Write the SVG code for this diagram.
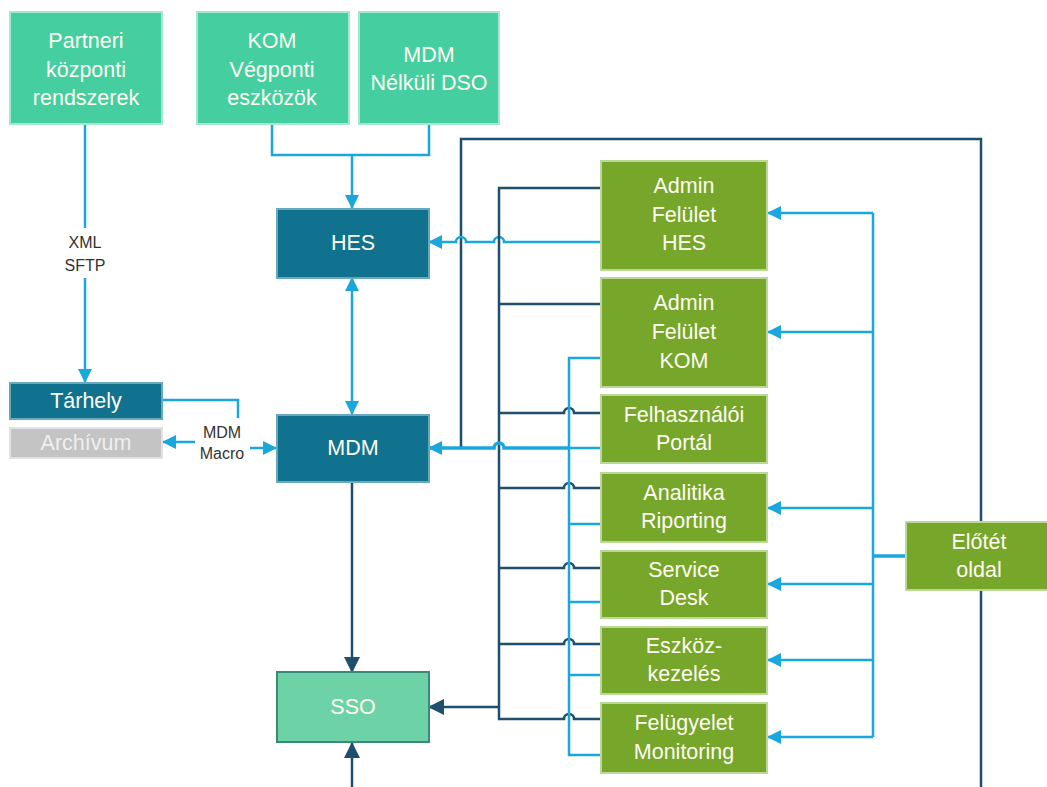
<svg xmlns="http://www.w3.org/2000/svg" width="1047" height="787" viewBox="0 0 1047 787">
<style>
.t{font-family:"Liberation Sans",Arial,sans-serif;font-size:21.5px;fill:#fffdf2;text-anchor:middle}
.lbl{font-family:"Liberation Sans",Arial,sans-serif;font-size:16px;fill:#333;text-anchor:middle}
.teal{fill:#45cea0;stroke:#a6e8cf;stroke-width:2}
.dark{fill:#11728f;stroke:#6aa9bd;stroke-width:2}
.green{fill:#76a62a;stroke:#bcd898;stroke-width:2}
.blue{fill:none;stroke:#1aa7de;stroke-width:2.5}
.blueT{fill:none;stroke:#1aa7de;stroke-width:3.5}
.navy{fill:none;stroke:#1f4e6e;stroke-width:2.5}
</style>
<defs>
<marker id="ab" markerUnits="userSpaceOnUse" markerWidth="14" markerHeight="14" refX="13" refY="7" orient="auto-start-reverse"><path d="M0,0 L14,7 L0,14 Z" fill="#1aa7de"/></marker>
<marker id="an" markerUnits="userSpaceOnUse" markerWidth="16" markerHeight="16" refX="15" refY="8" orient="auto-start-reverse"><path d="M0,0 L16,8 L0,16 Z" fill="#1f4e6e"/></marker>
</defs>
<rect width="1047" height="787" fill="#fff"/>
<g id="connectors">
<path class="blue" d="M85,125 V228"/>
<path class="blue" d="M85,278 V382" marker-end="url(#ab)"/>
<path class="blue" d="M272,125 V155 H429 V125"/>
<path class="blue" d="M352,155 V208" marker-end="url(#ab)"/>
<path class="blue" d="M352,278 V414" marker-start="url(#ab)" marker-end="url(#ab)"/>
<path class="blue" d="M163,400 H238 V418"/>
<path class="blue" d="M195,442 H163" marker-end="url(#ab)"/>
<path class="blue" d="M250,448 H276" marker-end="url(#ab)"/>
<path class="navy" d="M461,447 V139 H981 V787"/>
<path class="blue" d="M429,242 H456 A5,5 0 0 1 466,242 H494 A5,5 0 0 1 504,242 H601" marker-start="url(#ab)"/>
<path class="navy" d="M601,188 H499 V719 H564 A5,5 0 0 1 574,719 H601"/>
<path class="navy" d="M499,304 H601"/>
<path class="navy" d="M499,413 H564 A5,5 0 0 1 574,413 H601"/>
<path class="navy" d="M499,488 H564 A5,5 0 0 1 574,488 H601"/>
<path class="navy" d="M499,568 H564 A5,5 0 0 1 574,568 H601"/>
<path class="navy" d="M499,644 H564 A5,5 0 0 1 574,644 H601"/>
<path class="navy" d="M499,707 H429" marker-end="url(#an)"/>
<path class="navy" d="M352,482 V672" marker-end="url(#an)"/>
<path class="navy" d="M352,787 V743" marker-end="url(#an)"/>
<path class="blue" d="M601,358 H569 V755 H601"/>
<path class="blue" d="M569,448 H601 M569,524 H601 M569,602 H601 M569,675 H601"/>
<path class="blueT" d="M569,448 H504 A5,5 0 0 0 494,448 H429" marker-end="url(#ab)"/>
<path class="blue" d="M873,213 V737"/>
<path class="blue" d="M873,213 H768" marker-end="url(#ab)"/>
<path class="blue" d="M873,332 H768" marker-end="url(#ab)"/>
<path class="blue" d="M873,508 H768" marker-end="url(#ab)"/>
<path class="blue" d="M873,584 H768" marker-end="url(#ab)"/>
<path class="blue" d="M873,660 H768" marker-end="url(#ab)"/>
<path class="blue" d="M873,737 H768" marker-end="url(#ab)"/>
<path class="blueT" d="M873,556 H906"/>
<rect x="58" y="229" width="54" height="48" fill="#fff"/>
<text class="lbl" x="85" y="248">XML</text>
<text class="lbl" x="85" y="271">SFTP</text>
<text class="lbl" x="222" y="438">MDM</text>
<text class="lbl" x="222" y="459">Macro</text>
</g>
<g id="partneri"><rect class="teal" x="10" y="12" width="152" height="112"/><text class="t" x="86" y="48">Partneri</text><text class="t" x="86" y="77">központi</text><text class="t" x="86" y="105">rendszerek</text></g>
<g id="kom"><rect class="teal" x="197" y="12" width="152" height="112"/><text class="t" x="272" y="48">KOM</text><text class="t" x="272" y="77">Végponti</text><text class="t" x="272" y="105">eszközök</text></g>
<g id="mdmdso"><rect class="teal" x="359" y="12" width="140" height="112"/><text class="t" x="429" y="62">MDM</text><text class="t" x="429" y="90">Nélküli DSO</text></g>
<g id="hes"><rect class="dark" x="277" y="209" width="152" height="69"/><text class="t" x="353" y="250">HES</text></g>
<g id="mdm"><rect class="dark" x="277" y="415" width="152" height="67"/><text class="t" x="353" y="455">MDM</text></g>
<g id="sso"><rect x="277" y="672" width="152" height="70" fill="#6dd3a7" stroke="#3a8a78" stroke-width="2"/><text class="t" x="353" y="714">SSO</text></g>
<g id="tarhely"><rect class="dark" x="10" y="383" width="152" height="36"/><text class="t" x="86" y="408">Tárhely</text></g>
<g id="archivum"><rect x="10" y="428" width="152" height="30" fill="#c4c4c4" stroke="#e2e2e2" stroke-width="2"/><text class="t" x="86" y="450" style="fill:#efefef">Archívum</text></g>
<g id="adminhes"><rect class="green" x="601" y="161" width="166" height="109"/><text class="t" x="684" y="193">Admin</text><text class="t" x="684" y="222">Felület</text><text class="t" x="684" y="250">HES</text></g>
<g id="adminkom"><rect class="green" x="601" y="278" width="166" height="109"/><text class="t" x="684" y="310">Admin</text><text class="t" x="684" y="339">Felület</text><text class="t" x="684" y="368">KOM</text></g>
<g id="portal"><rect class="green" x="601" y="395" width="166" height="68"/><text class="t" x="684" y="422">Felhasználói</text><text class="t" x="684" y="450">Portál</text></g>
<g id="analitika"><rect class="green" x="601" y="473" width="166" height="69"/><text class="t" x="684" y="500">Analitika</text><text class="t" x="684" y="528">Riporting</text></g>
<g id="servicedesk"><rect class="green" x="601" y="551" width="166" height="67"/><text class="t" x="684" y="577">Service</text><text class="t" x="684" y="605">Desk</text></g>
<g id="eszkoz"><rect class="green" x="601" y="627" width="166" height="67"/><text class="t" x="684" y="653">Eszköz-</text><text class="t" x="684" y="681">kezelés</text></g>
<g id="felugyelet"><rect class="green" x="601" y="703" width="166" height="70"/><text class="t" x="684" y="730">Felügyelet</text><text class="t" x="684" y="759">Monitoring</text></g>
<g id="elotet"><rect class="green" x="906" y="522" width="145" height="68"/><text class="t" x="979" y="549">Előtét</text><text class="t" x="979" y="577">oldal</text></g>
</svg>
